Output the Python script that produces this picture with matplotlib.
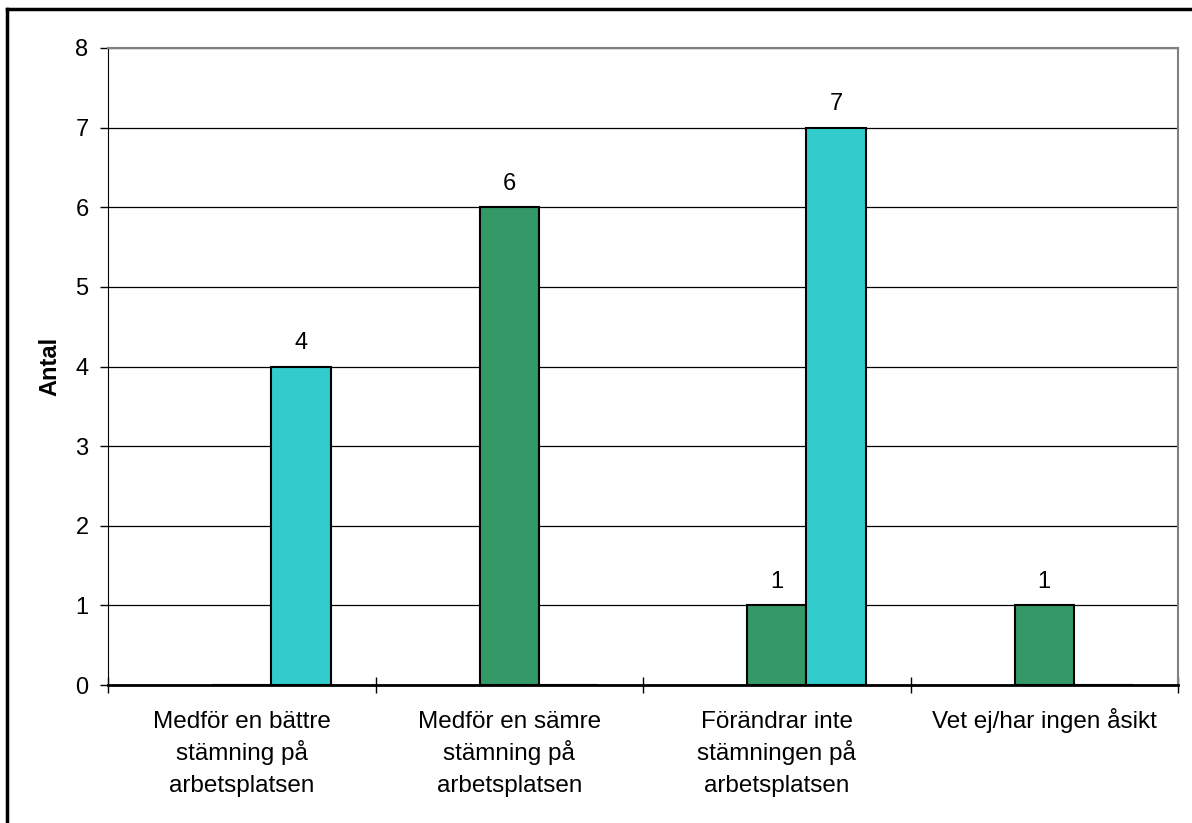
import matplotlib
matplotlib.use('Agg')
import matplotlib.pyplot as plt
from matplotlib.lines import Line2D
import numpy as np

# Данные диаграммы
categories = ['Medför en bättre\nstämning på\narbetsplatsen',
              'Medför en sämre\nstämning på\narbetsplatsen',
              'Förändrar inte\nstämningen på\narbetsplatsen',
              'Vet ej/har ingen åsikt']
green_vals = [0, 6, 1, 1]
cyan_vals = [4, 0, 7, 0]
y_ticks = [0, 1, 2, 3, 4, 5, 6, 7, 8]

plt.rcParams['font.family'] = ['Liberation Sans', 'DejaVu Sans']

fig = plt.figure(figsize=(11.92, 8.23), dpi=100)
ax = fig.add_axes([108/1192, 1 - 685/823, 1070/1192, 637/823])

x = np.arange(len(categories))
w = 1 / 4.5  # ширина столбца как в Excel (зазор 150%)

b1 = ax.bar(x, green_vals, w, color='#339966', edgecolor='black', linewidth=1.5, zorder=3)
b2 = ax.bar(x + w, cyan_vals, w, color='#33CCCC', edgecolor='black', linewidth=1.5, zorder=3)

# Подписи значений (только ненулевые)
for bars, vals in [(b1, green_vals), (b2, cyan_vals)]:
    for rect, v in zip(bars, vals):
        if v > 0:
            ax.annotate(str(v), (rect.get_x() + rect.get_width() / 2, v),
                        xytext=(0, 9), textcoords='offset points',
                        ha='center', va='bottom', fontsize=17)

ax.set_xlim(-0.5, 3.5)
ax.set_ylim(0, 8)
ax.set_yticks(y_ticks)
ax.yaxis.grid(True, color='black', linewidth=0.9, zorder=0)
ax.set_axisbelow(True)

# Подписи категорий построчно, чтобы интервал был ровный
ax.set_xticks(x)
ax.set_xticklabels([''] * len(categories))
for xi, lab in zip(x, categories):
    for j, line in enumerate(lab.split('\n')):
        ax.annotate(line, xy=(xi, 0), xycoords=('data', 'axes fraction'),
                    xytext=(0, -31 - j * 23), textcoords='offset points',
                    ha='center', va='baseline', fontsize=17.5)
ax.set_xticks(np.arange(-0.5, 4, 1), minor=True)
ax.tick_params(axis='x', which='major', length=0)
ax.tick_params(axis='x', which='minor', direction='inout', length=12, width=1)
ax.tick_params(axis='y', direction='out', length=6, width=1, labelsize=17, pad=8)

ax.set_ylabel('Antal', fontsize=17, fontweight='bold', labelpad=10)

for s in ['top', 'right']:
    ax.spines[s].set_color('#808080')
    ax.spines[s].set_linewidth(1.5)
ax.spines['left'].set_color('black')
ax.spines['bottom'].set_color('black')
ax.spines['bottom'].set_linewidth(2)

# Рамка вокруг рисунка (слева и сверху)
fig.add_artist(Line2D([7/1192, 7/1192], [0, 1 - 9/823], color='black', linewidth=2.5))
fig.add_artist(Line2D([7/1192, 1], [1 - 9/823, 1 - 9/823], color='black', linewidth=2.5))

fig.savefig('out.png', dpi=100)
